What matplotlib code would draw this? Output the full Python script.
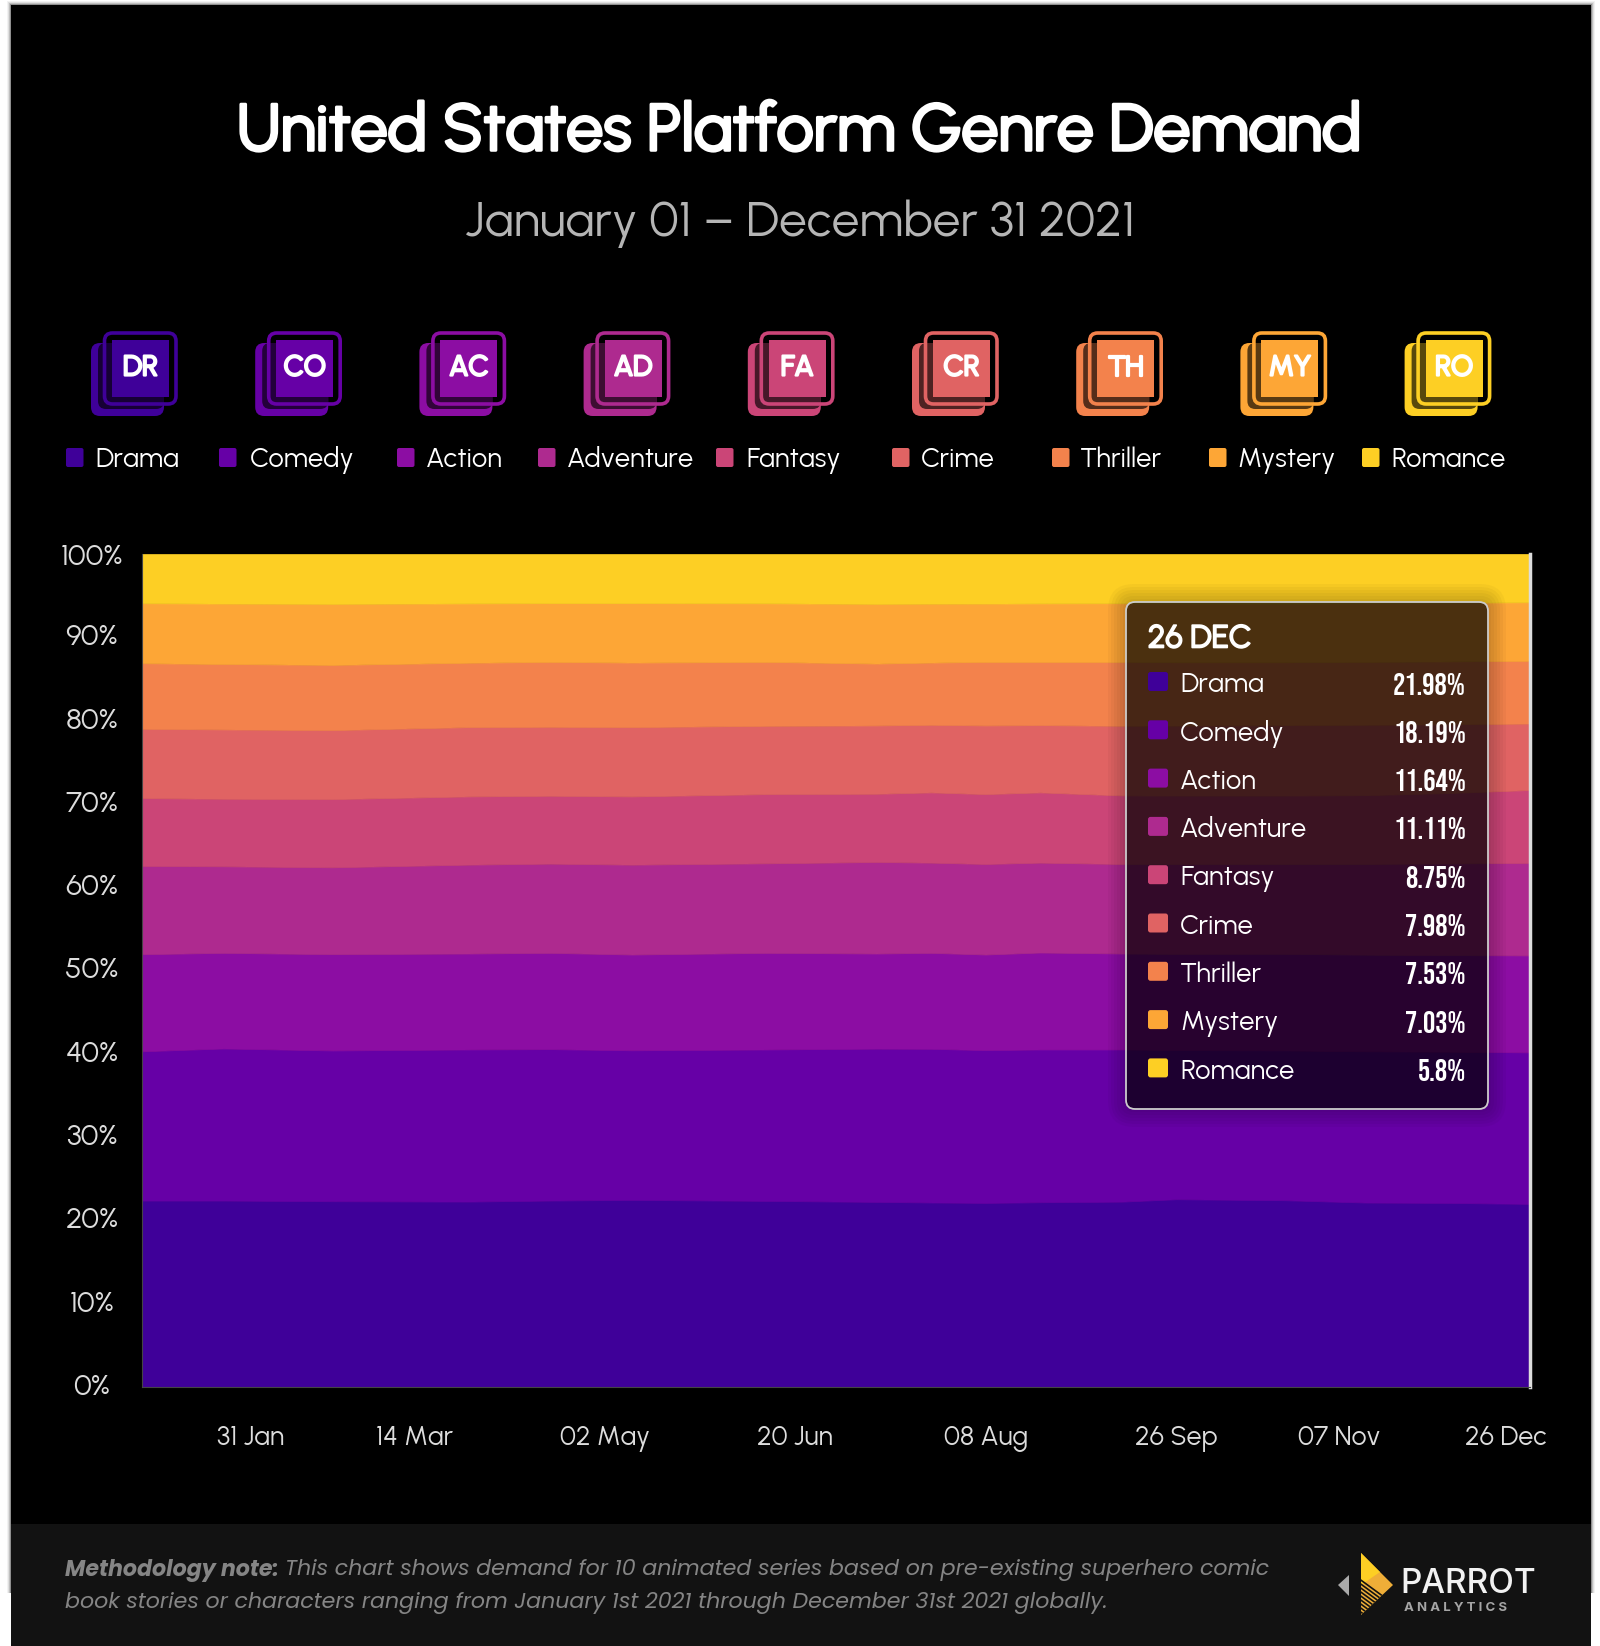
import pandas as pd
import matplotlib
matplotlib.use("Agg")
import matplotlib.pyplot as plt
import matplotlib.patheffects as pe
from matplotlib.patches import FancyBboxPatch, Polygon, Rectangle
from matplotlib.transforms import ScaledTranslation

# Datos (porcentaje semanal por genero)
dates = ["2021-01-03", "2021-01-24", "2021-02-21", "2021-03-28", "2021-04-18", "2021-05-09",
         "2021-06-13", "2021-07-11", "2021-07-25", "2021-08-08", "2021-08-22", "2021-09-12",
         "2021-09-26", "2021-10-24", "2021-11-14", "2021-12-05", "2021-12-26"]
drama = [22.38, 22.38, 22.30, 22.26, 22.38, 22.46, 22.34, 22.22, 22.15, 22.10, 22.18, 22.25, 22.54, 22.42, 22.14, 22.10, 21.98]
comedy = [17.92, 18.26, 18.10, 18.26, 18.18, 17.96, 18.18, 18.40, 18.45, 18.34, 18.34, 18.27, 17.91, 17.98, 18.16, 18.15, 18.19]
action = [11.66, 11.48, 11.56, 11.52, 11.56, 11.50, 11.60, 11.42, 11.52, 11.48, 11.64, 11.52, 11.55, 11.60, 11.60, 11.60, 11.64]
adventure = [10.59, 10.39, 10.43, 10.67, 10.71, 10.79, 10.75, 10.99, 10.83, 10.87, 10.79, 10.75, 10.80, 10.80, 10.90, 11.00, 11.11]
fantasy = [8.15, 8.11, 8.19, 8.19, 8.15, 8.19, 8.31, 8.19, 8.43, 8.39, 8.43, 8.23, 8.20, 8.20, 8.25, 8.45, 8.75]
crime = [8.32, 8.32, 8.28, 8.32, 8.28, 8.32, 8.20, 8.20, 8.12, 8.24, 8.08, 8.36, 8.40, 8.45, 8.45, 8.25, 7.98]
thriller = [7.87, 7.86, 7.83, 7.73, 7.79, 7.75, 7.67, 7.43, 7.47, 7.63, 7.59, 7.67, 7.60, 7.55, 7.55, 7.55, 7.53]
mystery = [7.20, 7.25, 7.33, 7.12, 7.05, 7.13, 7.03, 7.17, 7.07, 7.00, 7.02, 7.04, 7.08, 7.05, 7.05, 7.05, 7.03]
romance = [5.91, 5.95, 5.98, 5.93, 5.90, 5.90, 5.92, 5.98, 5.96, 5.95, 5.93, 5.91, 5.92, 5.95, 5.90, 5.85, 5.80]

genres = ["Drama", "Comedy", "Action", "Adventure", "Fantasy", "Crime", "Thriller", "Mystery", "Romance"]
codes = ["DR", "CO", "AC", "AD", "FA", "CR", "TH", "MY", "RO"]
colors = ["#3F0099", "#6600A6", "#8C0DA3", "#AE2A8F", "#CB4577", "#E06363", "#F3824C", "#FDA636", "#FDCF24"]
tick_dates = ["2021-01-31", "2021-03-14", "2021-05-02", "2021-06-20", "2021-08-08", "2021-09-26", "2021-11-07", "2021-12-26"]
tick_labels = ["31 Jan", "14 Mar", "02 May", "20 Jun", "08 Aug", "26 Sep", "07 Nov", "26 Dec"]
y_ticks = [0, 10, 20, 30, 40, 50, 60, 70, 80, 90, 100]
tooltip_date = "26 DEC"
tooltip_values = ["21.98%", "18.19%", "11.64%", "11.11%", "8.75%", "7.98%", "7.53%", "7.03%", "5.8%"]

# Posiciones de la leyenda en pixeles
legend_box_x = [66, 219, 397, 538, 716, 892, 1052, 1209, 1362]
legend_text_x = [95, 250, 426, 567, 746, 921, 1080, 1237, 1391]

plt.rcParams["font.family"] = ["Urbanist", "Inter", "DejaVu Sans"]
NOTE_FONT = ["Poppins", "Inter", "DejaVu Sans"]
VALUE_FONT = ["Bebas Neue", "Oswald", "Liberation Sans"]
LOGO_FONT = ["Inter", "DejaVu Sans"]


def heavy(w, color="white"):
    # Urbanist solo tiene un peso, se engrosa con un trazo
    return [pe.withStroke(linewidth=w, foreground=color)]


fig = plt.figure(figsize=(16, 16.46), dpi=100, facecolor="white")

# Capa de fondo en coordenadas de pixeles
bg = fig.add_axes([0, 0, 1, 1], zorder=0)
bg.set_xlim(0, 1600)
bg.set_ylim(1646, 0)
bg.axis("off")


def rbox(ax, x0, y0, x1, y1, r, **kw):
    p = FancyBboxPatch((x0, y0), x1 - x0, y1 - y0, boxstyle=f"round,pad=0,rounding_size={r}", **kw)
    ax.add_patch(p)
    return p


# Sombra y tarjeta
for i, a in enumerate([0.05, 0.08, 0.14, 0.25]):
    bg.add_patch(Rectangle((10.5 - 4 + i, 5 - 4 + i), 1580.5 + 8 - 2 * i, 1592 - i, color="black", alpha=a, lw=0))
bg.add_patch(Rectangle((10.5, 5), 1580.5, 1641, color="black", lw=0))
bg.add_patch(Rectangle((10.5, 1524), 1580.5, 122, color="#121212", lw=0))

# Titulos
bg.text(800, 134, "United States Platform Genre Demand", color="white", fontsize=47.3, ha="center", va="center",
        path_effects=heavy(2.2))
bg.text(800, 224, "January 01 – December 31 2021", color="#b5b5b5", fontsize=35.5, ha="center", va="center")

# Iconos y leyenda
for i, g in enumerate(genres):
    dx = 164.2 * i
    c = colors[i]
    rbox(bg, 91 + dx, 343, 164 + dx, 416, 9, fc=c, ec="none")
    rbox(bg, 98 + dx, 343, 164 + dx, 409, 8, fc="black", ec="none", alpha=0.65)
    rbox(bg, 104.5 + dx, 333, 176 + dx, 404, 8, fc="none", ec=c, lw=2.6)
    bg.add_patch(Rectangle((112 + dx, 340), 57, 57, fc=c, lw=0))
    bg.text(140.5 + dx, 368, codes[i], color="white", fontsize=20.5, ha="center", va="center", path_effects=heavy(1.6))
    rbox(bg, legend_box_x[i], 448, legend_box_x[i] + 17.5, 467, 2, fc=c, ec="none")
    bg.text(legend_text_x[i], 460, g, color="white", fontsize=19.6, ha="left", va="center")

# Nota al pie
note_bold = bg.text(65, 1570, "Methodology note:", color="#858585", fontsize=15.95, fontweight="bold",
                    fontstyle="italic", family=NOTE_FONT, ha="left", va="center")
r = fig.canvas.get_renderer()
x_end = note_bold.get_window_extent(r).x1
bg.text(x_end + 6, 1570, "This chart shows demand for 10 animated series based on pre-existing superhero comic",
        color="#858585", fontsize=15.95, fontstyle="italic", family=NOTE_FONT, ha="left", va="center")
bg.text(65, 1603, "book stories or characters ranging from January 1st 2021 through December 31st 2021 globally.",
        color="#858585", fontsize=15.95, fontstyle="italic", family=NOTE_FONT, ha="left", va="center")

# Logo
bg.add_patch(Polygon([(1338, 1585), (1349, 1575), (1349, 1596)], color="#aaaaaa", lw=0))
tri = Polygon([(1361, 1553), (1393, 1585), (1361, 1615)], color="#EFAE38", lw=0)
bg.add_patch(tri)
top_piece = Polygon([(1361, 1553), (1380, 1572), (1361, 1585)], color="#FDCF24", lw=0)
bg.add_patch(top_piece)
for k in range(11):
    y0 = 1578 + k * 4
    line, = bg.plot([1358, 1384], [y0, y0 + 19], color="#121212", lw=1.2)
    line.set_clip_path(tri)
bg.text(1468, 1584, "PARROT", color="#f2f2f2", fontsize=24, fontweight="medium", family=LOGO_FONT, ha="center", va="center")
bg.text(1456, 1608, "A N A L Y T I C S", color="#a5a5a5", fontsize=9.5, fontweight="bold", family=LOGO_FONT, ha="center", va="center")

# Grafico de areas
ax = fig.add_axes([142 / 1600, 1 - 1387 / 1646, (1530 - 142) / 1600, 833 / 1646], zorder=1, facecolor="black")
x = pd.to_datetime(dates)
ax.stackplot(x, drama, comedy, action, adventure, fantasy, crime, thriller, mystery, romance,
             colors=colors, edgecolor="face", lw=0.5)
ax.set_xlim(x[0], x[-1])
ax.set_ylim(0, 100)
ax.axvline(x[-1], color="#dddddd", lw=2.5, clip_on=False)
for s in ["top", "right"]:
    ax.spines[s].set_visible(False)
for s in ["left", "bottom"]:
    ax.spines[s].set_color("#444444")
ax.set_xticks(pd.to_datetime(tick_dates), tick_labels)
ax.set_yticks(y_ticks, [f"{v}%" for v in y_ticks])
ax.tick_params(axis="x", length=0, pad=27, labelsize=19.3, labelcolor="#dddddd")
ax.tick_params(axis="y", length=0, pad=36, labelsize=21.5, labelcolor="#dddddd")
for lab, v in zip(ax.get_yticklabels(), y_ticks):
    lab.set_ha("center")
    if v < 100:
        lab.set_transform(lab.get_transform() + ScaledTranslation(0, 3 / 100, fig.dpi_scale_trans))
# la ultima etiqueta va corrida para que entre
last = ax.get_xticklabels()[-1]
last.set_transform(last.get_transform() + ScaledTranslation(-24 / 100, 0, fig.dpi_scale_trans))

# Tooltip encima del grafico
top = fig.add_axes([0, 0, 1, 1], zorder=2, facecolor="none")
top.set_xlim(0, 1600)
top.set_ylim(1646, 0)
top.axis("off")
for s in range(6):
    e = 18 - 3 * s
    rbox(top, 1126 - e, 602 - e, 1488 + e, 1109 + e, 8 + e, fc="black", ec="none", alpha=0.03)
rbox(top, 1126, 602, 1488, 1109, 9, fc=(0, 0, 0, 0.64), ec="#cccccc", lw=1.3)
top.text(1148, 639, tooltip_date, color="white", fontsize=23, ha="left", va="center", path_effects=heavy(1.2))
for i, g in enumerate(genres):
    y = 685.5 + 48.3 * i
    rbox(top, 1148, y - 13.5, 1168, y + 5.5, 2.5, fc=colors[i], ec="none")
    top.text(1180, y, g, color="white", fontsize=19.6, ha="left", va="center")
    top.text(1466, y - 2, tooltip_values[i], color="white", fontsize=22, family=VALUE_FONT, ha="right", va="center")

fig.savefig("out.png", dpi=100, facecolor="white")
